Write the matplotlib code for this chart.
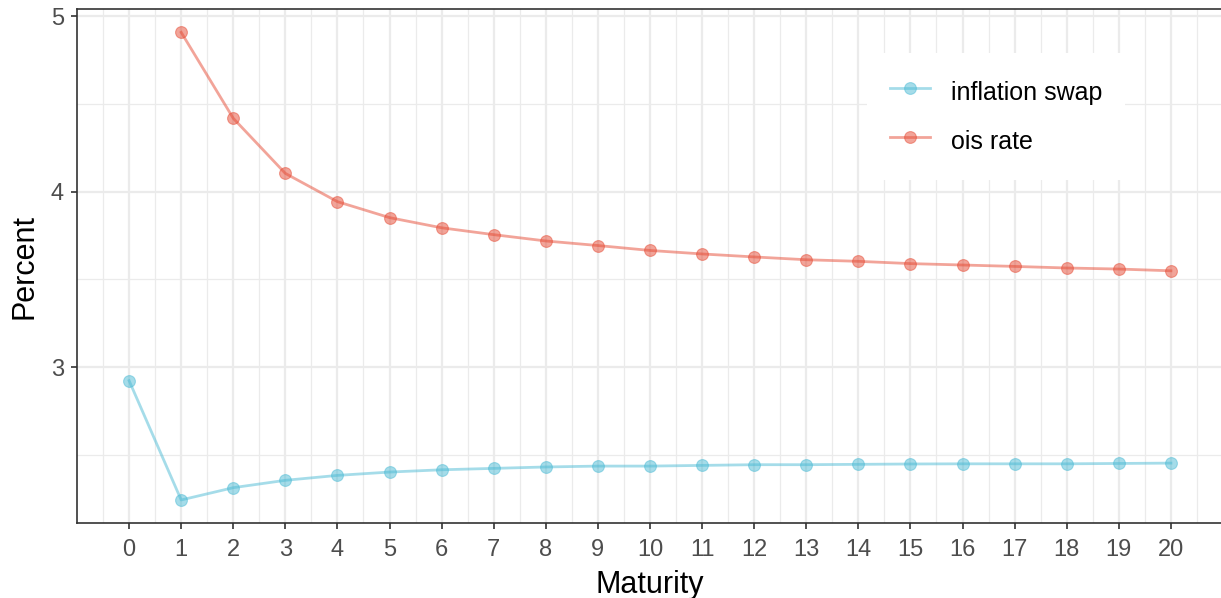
import numpy as np
import matplotlib
matplotlib.use("Agg")
import matplotlib.pyplot as plt

plt.rcParams['font.family'] = ['Liberation Sans', 'DejaVu Sans']

# data
maturity = list(range(0, 21))
inflation_swap = [2.923, 2.243, 2.313, 2.355, 2.383, 2.402, 2.415, 2.423, 2.431, 2.436, 2.436,
                  2.440, 2.444, 2.444, 2.446, 2.448, 2.449, 2.449, 2.449, 2.451, 2.453]
ois_maturity = list(range(1, 21))
ois_rate = [4.908, 4.418, 4.104, 3.943, 3.852, 3.794, 3.755, 3.719, 3.693, 3.665,
            3.645, 3.628, 3.612, 3.603, 3.590, 3.582, 3.574, 3.565, 3.559, 3.549]

col_infl = '#4DBBD5'
col_ois = '#E64B35'

W, H = 1221, 598
fig = plt.figure(figsize=(W / 100, H / 100), dpi=100)
ax = fig.add_axes([77 / W, 1 - 523.3 / H, (1223 - 77) / W, (523.3 - 9) / H])

for x, y, c, lab in [(maturity, inflation_swap, col_infl, 'inflation swap'),
                     (ois_maturity, ois_rate, col_ois, 'ois rate')]:
    ax.plot(x, y, color=c, alpha=0.5, lw=2.0, marker='o', ms=8.5,
            markerfacecolor=c, markeredgecolor=c, markeredgewidth=0.8, label=lab, zorder=3)

ax.set_xlim(-1, 21)
ax.set_ylim(2.110, 5.041)
ax.set_xticks(maturity)
ax.set_xticks(np.arange(-0.5, 21, 1), minor=True)
ax.set_yticks([3, 4, 5])
ax.set_yticks([2.5, 3.5, 4.5], minor=True)

ax.grid(True, which='major', color='#EBEBEB', lw=1.6, zorder=0)
ax.grid(True, which='minor', color='#EBEBEB', lw=0.9, zorder=0)
ax.set_axisbelow(True)

for s in ax.spines.values():
    s.set_color('#333333')
    s.set_linewidth(1.2)

ax.tick_params(which='major', length=4.5, width=1.2, color='#333333',
               labelsize=17, labelcolor='#4D4D4D', pad=5)
ax.tick_params(axis='x', which='major', pad=7)
ax.tick_params(which='minor', length=0)

ax.set_xlabel('Maturity', fontsize=22, color='black', labelpad=6)
ax.set_ylabel('Percent', fontsize=22, color='black', labelpad=8)

leg = ax.legend(loc='upper left', bbox_to_anchor=(867 / W, 1 - 53 / H),
                bbox_transform=fig.transFigure, fontsize=18, frameon=True,
                facecolor='white', edgecolor='none', framealpha=1, fancybox=False,
                handlelength=1.6, handleheight=1.6, handletextpad=0.85,
                labelspacing=0.7, borderpad=0.9, borderaxespad=0)

fig.savefig('out.png', dpi=100)
